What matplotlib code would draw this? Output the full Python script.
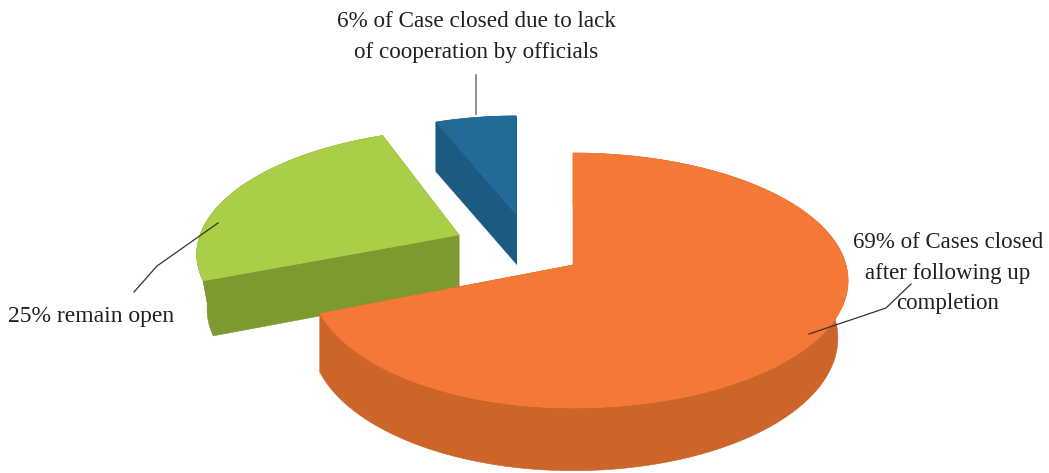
import numpy as np
import matplotlib.pyplot as plt
from matplotlib.patches import Polygon

# share of cases per outcome, in percent
shares = [69, 25, 6]
labels = ["69% of Cases closed\nafter following up\ncompletion",
          "25% remain open",
          "6% of Case closed due to lack\nof cooperation by officials"]
top_colors = ["#F47836", "#A9CE47", "#226A98"]
side_colors = ["#CD652A", "#7C9A30", "#1B5B82"]

# exploded position and size of each slice (pixels)
# apex x, apex y, rx left, rx right, ry, skew, depth, base x scale left, base x scale right, base y scale
slice_geom = [
    (573, 265, 260, 273, 125.6, 0, 57, 1.0, 0.963, 1.04),
    (459, 235, 259, 259, 119, 10, 55, 0.96, 0.96, 1.0),
    (516, 214, 242, 242, 110, 0, 49.5, 1.0, 1.0, 1.0),
]
persp = 0.1216

plt.rcParams['font.family'] = ['Liberation Serif', 'DejaVu Serif']
fig = plt.figure(figsize=(10.49, 4.73), dpi=100)
ax = fig.add_axes([0, 0, 1, 1])
ax.set_xlim(0, 1049)
ax.set_ylim(473, 0)
ax.axis("off")


def project(t, g, lower=False):
    # t is clockwise from 12 o'clock, in radians
    x0, y0, rxl, rxr, ry, skew, depth, sxl, sxr, sy = g
    u = np.sin(t)
    v = np.cos(t)
    d = 1 + persp * v
    rx = np.where(u < 0, rxl, rxr)
    if lower:
        rx = rx * np.where(u < 0, sxl, sxr)
        ry = ry * sy
        y0 = y0 + depth
    return x0 + rx * u / d + skew * v, y0 - ry * v / d


def draw_slice(start, stop, g, top, side, z):
    t = np.linspace(start, stop, 300)
    xa, ya = project(t, g)
    xb, yb = project(t, g, lower=True)
    apex_t = np.array([g[0], g[1]])
    apex_b = np.array([g[0], g[1] + g[6]])
    # rim of the slice as one band, then the two cut faces
    rim = np.vstack([np.column_stack([xa, ya]), np.column_stack([xb, yb])[::-1]])
    ax.add_patch(Polygon(rim, fc=side, ec=side, lw=0.4, zorder=z))
    for j in (0, -1):
        face = [apex_t, (xa[j], ya[j]), (xb[j], yb[j]), apex_b]
        ax.add_patch(Polygon(face, fc=side, ec=side, lw=0.4, zorder=z))
    pts = np.vstack([apex_t, np.column_stack([xa, ya])])
    ax.add_patch(Polygon(pts, fc=top, ec=top, lw=0.4, zorder=z + 1))


# angles run clockwise from the top, largest share first
edges = np.radians(np.cumsum([0] + shares) * 3.6)
for i in range(len(shares)):
    draw_slice(edges[i], edges[i + 1], slice_geom[i], top_colors[i], side_colors[i], 10 - 2 * i)

# leader lines
ax.plot([809, 886, 911], [334, 308, 284], color="#333333", lw=0.9, zorder=20)
ax.plot([218, 157, 134], [223, 266, 292], color="#333333", lw=0.9, zorder=20)
ax.plot([476, 476], [75, 114], color="#888888", lw=1.3, zorder=20)

ax.text(948, 273, labels[0], ha="center", va="center", fontsize=16.5, color="#231F20", linespacing=1.62)
ax.text(8, 316, labels[1], ha="left", va="center", fontsize=17, color="#231F20")
ax.text(476, 37, labels[2], ha="center", va="center", fontsize=16.7, color="#231F20", linespacing=1.64)

fig.savefig("out.png", dpi=100)
